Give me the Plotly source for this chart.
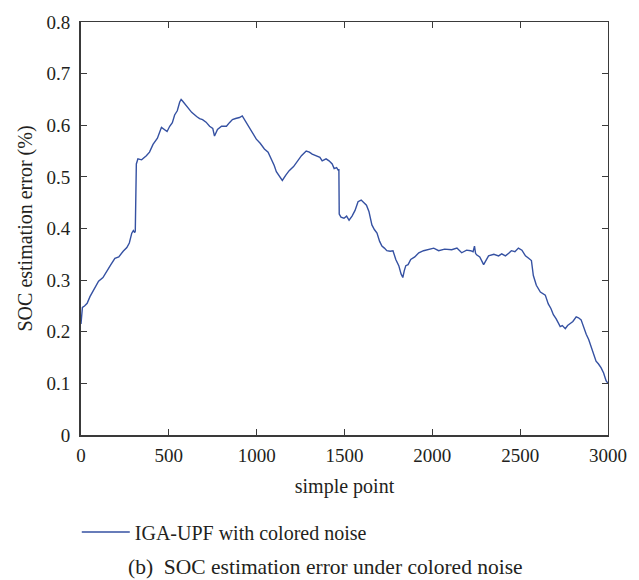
import plotly.graph_objects as go

# simple point index
x_pts = [0, 3, 8, 20, 35, 51, 70, 100, 125, 147, 170, 193, 215, 240, 261, 275, 289, 298, 306, 309,
         311, 315, 324, 345, 372, 390, 410, 435, 458, 476, 490, 505, 520, 533, 548, 562, 570, 578,
         590, 607, 630, 658, 675, 692, 712, 732, 750, 760, 768, 777, 800, 828, 845, 862, 880, 902,
         918, 930, 960, 998, 1020, 1044, 1065, 1083, 1100, 1112, 1130, 1146, 1165, 1185, 1210, 1231,
         1255, 1282, 1300, 1316, 1339, 1360, 1373, 1395, 1412, 1430, 1441, 1455, 1466, 1468, 1470,
         1480, 1497, 1512, 1526, 1543, 1560, 1577, 1595, 1611, 1625, 1639, 1656, 1670, 1685, 1700,
         1713, 1727, 1741, 1760, 1776, 1792, 1809, 1822, 1832, 1840, 1849, 1862, 1877, 1900, 1923,
         1950, 1980, 2008, 2036, 2070, 2110, 2140, 2167, 2195, 2218, 2232, 2240, 2246, 2252, 2270,
         2292, 2305, 2320, 2350, 2377, 2395, 2416, 2435, 2450, 2470, 2490, 2510, 2530, 2550, 2564,
         2575, 2592, 2615, 2632, 2643, 2660, 2675, 2689, 2705, 2728, 2740, 2757, 2770, 2785, 2800,
         2819, 2832, 2847, 2862, 2876, 2890, 2904, 2918, 2932, 2945, 2961, 2975, 2989, 3000]
# SOC estimation error (%)
err_pts = [0.215, 0.24, 0.247, 0.25, 0.255, 0.268, 0.28, 0.298, 0.305, 0.318, 0.33, 0.342, 0.345, 0.356, 0.363, 0.372, 0.391, 0.396, 0.392, 0.395,
           0.50, 0.525, 0.535, 0.533, 0.541, 0.548, 0.563, 0.575, 0.596, 0.592, 0.588, 0.598, 0.605, 0.62, 0.628, 0.645, 0.650, 0.647,
           0.642, 0.634, 0.625, 0.617, 0.613, 0.611, 0.606, 0.598, 0.594, 0.579, 0.586, 0.592, 0.598, 0.598, 0.605, 0.611, 0.613, 0.615,
           0.618, 0.611, 0.595, 0.573, 0.565, 0.554, 0.548, 0.535, 0.522, 0.51, 0.500, 0.493, 0.503, 0.512, 0.520, 0.531,
           0.541, 0.550, 0.548, 0.544, 0.541, 0.538, 0.531, 0.535, 0.531, 0.525, 0.516, 0.518, 0.512, 0.515, 0.428,
           0.422, 0.42, 0.424, 0.416, 0.424, 0.435, 0.452, 0.455, 0.449, 0.445, 0.433, 0.407, 0.398, 0.391, 0.375,
           0.366, 0.362, 0.357, 0.356, 0.357, 0.340, 0.328, 0.312, 0.305, 0.318, 0.328, 0.330, 0.340, 0.345, 0.353,
           0.357, 0.359, 0.362, 0.357, 0.360, 0.359, 0.362, 0.353, 0.358, 0.357, 0.355, 0.366, 0.352, 0.349, 0.345,
           0.330, 0.338, 0.347, 0.350, 0.347, 0.351, 0.347, 0.352, 0.357, 0.355, 0.362, 0.358, 0.347, 0.342, 0.338,
           0.309, 0.29, 0.277, 0.273, 0.271, 0.254, 0.245, 0.233, 0.225, 0.21, 0.212, 0.206, 0.212, 0.216, 0.220,
           0.229, 0.227, 0.223, 0.208, 0.195, 0.185, 0.172, 0.160, 0.143, 0.138, 0.13, 0.12, 0.105, 0.10]

x_ticks = [0, 500, 1000, 1500, 2000, 2500, 3000]
y_ticks = [0, 0.1, 0.2, 0.3, 0.4, 0.5, 0.6, 0.7, 0.8]
y_tick_text = ["0", "0.1", "0.2", "0.3", "0.4", "0.5", "0.6", "0.7", "0.8"]

FONT = "Liberation Serif"
TXT = "#231f20"
AX = "#3a3a3a"

fig = go.Figure()
fig.add_trace(go.Scatter(x=x_pts, y=err_pts, mode="lines", name="IGA-UPF with colored noise",
                         line=dict(color="#3551a2", width=1.4)))

axis_common = dict(ticks="inside", ticklen=6, tickwidth=1.2, tickcolor=AX,
                   showgrid=False, zeroline=False, showline=True)

fig.update_layout(
    width=639, height=580,
    margin=dict(l=81, r=29, t=16, b=145),
    paper_bgcolor="white", plot_bgcolor="white",
    font=dict(family=FONT, size=19, color=TXT),
    showlegend=True,
    legend=dict(x=-0.008, y=-0.235, xanchor="left", yanchor="middle", itemwidth=48,
                font=dict(family=FONT, size=20, color=TXT),
                bgcolor="rgba(0,0,0,0)", borderwidth=0),
    xaxis=dict(range=[0, 3000], tickvals=x_ticks, linecolor=AX, linewidth=2,
               title=dict(text="simple point", standoff=14, font=dict(size=20)),
               tickfont=dict(size=19), ticklabelstandoff=2, **axis_common),
    yaxis=dict(range=[0, 0.8], tickvals=y_ticks, ticktext=y_tick_text, linecolor=AX, linewidth=2,
               title=dict(text="SOC estimation error (%)", standoff=8, font=dict(size=20)),
               tickfont=dict(size=19), ticklabelstandoff=5, **axis_common),
    xaxis2=dict(range=[0, 3000], tickvals=x_ticks, overlaying="x", side="top", showticklabels=False,
                linecolor=AX, linewidth=1.3, **axis_common),
    yaxis2=dict(range=[0, 0.8], tickvals=y_ticks, overlaying="y", side="right", showticklabels=False,
                linecolor=AX, linewidth=1.3, **axis_common),
)

# invisible trace to activate top/right axes
fig.add_trace(go.Scatter(x=[0, 3000], y=[0, 0.8], xaxis="x2", yaxis="y2", mode="lines",
                         line=dict(width=0), hoverinfo="skip", showlegend=False))

fig.add_annotation(text="(b)  SOC estimation error under colored noise", xref="paper", yref="paper",
                   x=0.086, y=-0.319, xanchor="left", yanchor="middle", showarrow=False,
                   font=dict(family=FONT, size=21.5, color=TXT))

fig.write_html("out.html")
